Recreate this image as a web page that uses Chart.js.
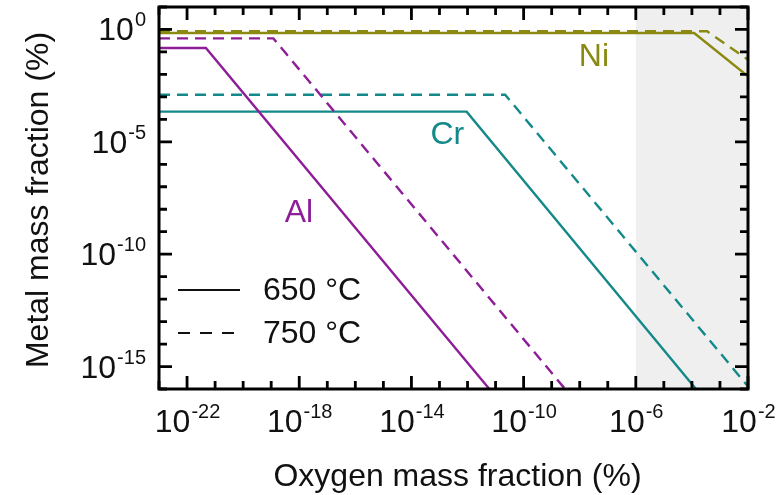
<!DOCTYPE html>
<html>
<head>
<meta charset="utf-8">
<script src="https://cdn.jsdelivr.net/npm/chart.js@4.4.1/dist/chart.umd.min.js"></script>
<style>
  html, body { margin: 0; padding: 0; background: #fff; }
  #wrap { width: 783px; height: 495px; position: relative; }
</style>
</head>
<body>
<div id="wrap"><canvas id="metal-chart"></canvas></div>
<script>
// 
// Metal vs oxygen mass fraction (both in %)
// 

// Al
const alX650 = [1e-23, 4.7e-22, 6e-12];
const alY650 = [0.15, 0.15, 1e-16];
const alX750 = [1e-23, 1.2e-19, 3e-9];
const alY750 = [0.4, 0.4, 1e-16];

// Cr
const crX650 = [1e-23, 9.3e-13, 1.4e-4];
const crY650 = [2.2e-4, 2.2e-4, 1e-16];
const crX750 = [1e-23, 2.2e-11, 1e-2];
const crY750 = [1.25e-3, 1.25e-3, 1.3e-16];

// Ni
const niX650 = [1e-23, 1.2e-4, 1e-2];
const niY650 = [0.7, 0.7, 8.3e-3];
const niX750 = [1e-23, 3.5e-4, 1e-2];
const niY750 = [0.83, 0.83, 0.045];

// grey band on the right
const shadeX = [1e-6, 1e-2];

// axes
const xRange = [1e-23, 1e-2];
const yRange = [1e-16, 10];
const xMajorExps = [-22, -18, -14, -10, -6, -2];
const yMajorExps = [0, -5, -10, -15];

// element names placed in data coords
const labelText = ["Al", "Cr", "Ni"];
const labelX = [9.8e-19, 1.9e-13, 3.2e-8];
const labelY = [7e-9, 1.9e-5, 0.056];

const legendText = ["650 °C", "750 °C"];

const colorAl = "#8e1d98";
const colorCr = "#14898a";
const colorNi = "#8a8a12";
const labelColors = [colorAl, colorCr, colorNi];
const dashPattern = [11, 7];
const fontName = "'Liberation Sans', Arial, sans-serif";

function toPoints(xs, ys) {
  return xs.map((x, i) => ({ x: x, y: ys[i] }));
}

function series(xs, ys, color, dashed) {
  return {
    data: toPoints(xs, ys),
    borderColor: color,
    borderWidth: 2.4,
    borderDash: dashed ? dashPattern : [],
    pointRadius: 0,
    tension: 0,
    fill: false
  };
}

// "10" with a raised exponent
function drawPow(ctx, exp, x, y, align) {
  ctx.font = "32px " + fontName;
  const base = "10";
  const w1 = ctx.measureText(base).width;
  ctx.font = "20px " + fontName;
  const sup = String(exp);
  const w2 = ctx.measureText(sup).width;
  let start = x;
  if (align === "center") start = x - (w1 + w2) / 2;
  if (align === "right") start = x - (w1 + w2);
  ctx.textAlign = "left";
  ctx.textBaseline = "alphabetic";
  ctx.font = "32px " + fontName;
  ctx.fillText(base, start, y);
  ctx.font = "20px " + fontName;
  ctx.fillText(sup, start + w1 + 1, y - 14);
}

const framePlugin = {
  id: "frame",
  beforeDatasetsDraw(chart) {
    const ctx = chart.ctx;
    const a = chart.chartArea;
    const xs = chart.scales.x;
    const x0 = xs.getPixelForValue(shadeX[0]);
    const x1 = xs.getPixelForValue(shadeX[1]);
    ctx.save();
    ctx.fillStyle = "#efefef";
    ctx.fillRect(x0, a.top, x1 - x0, a.bottom - a.top);
    ctx.restore();
  },
  afterDatasetsDraw(chart) {
    const ctx = chart.ctx;
    const a = chart.chartArea;
    const xs = chart.scales.x;
    const ys = chart.scales.y;
    ctx.save();

    // ticks every decade, long ones at the labelled decades
    ctx.strokeStyle = "#000";
    ctx.lineWidth = 2.8;
    ctx.beginPath();
    for (let e = -23; e <= -2; e++) {
      const px = xs.getPixelForValue(Math.pow(10, e));
      const len = xMajorExps.includes(e) ? 13 : 8;
      ctx.moveTo(px, a.bottom); ctx.lineTo(px, a.bottom - len);
      ctx.moveTo(px, a.top); ctx.lineTo(px, a.top + len);
    }
    for (let e = -16; e <= 1; e++) {
      const py = ys.getPixelForValue(Math.pow(10, e));
      const len = yMajorExps.includes(e) ? 13 : 8;
      ctx.moveTo(a.left, py); ctx.lineTo(a.left + len, py);
      ctx.moveTo(a.right, py); ctx.lineTo(a.right - len, py);
    }
    ctx.stroke();

    // frame
    ctx.lineWidth = 3;
    ctx.strokeRect(a.left, a.top, a.right - a.left, a.bottom - a.top);

    // tick labels
    ctx.fillStyle = "#111";
    xMajorExps.forEach(e => {
      drawPow(ctx, e, xs.getPixelForValue(Math.pow(10, e)), a.bottom + 43, "center");
    });
    yMajorExps.forEach(e => {
      drawPow(ctx, e, a.left - 14, ys.getPixelForValue(Math.pow(10, e)) + 11, "right");
    });

    // axis titles
    ctx.font = "32px " + fontName;
    ctx.textAlign = "center";
    ctx.textBaseline = "alphabetic";
    ctx.fillText("Oxygen mass fraction (%)", (a.left + a.right) / 2 + 4, 486);
    ctx.save();
    ctx.translate(48, (a.top + a.bottom) / 2 + 2);
    ctx.rotate(-Math.PI / 2);
    ctx.fillText("Metal mass fraction (%)", 0, 0);
    ctx.restore();

    // element labels
    ctx.textBaseline = "middle";
    labelText.forEach((t, i) => {
      ctx.fillStyle = labelColors[i];
      ctx.fillText(t, xs.getPixelForValue(labelX[i]), ys.getPixelForValue(labelY[i]));
    });

    // legend
    ctx.strokeStyle = "#111";
    ctx.fillStyle = "#111";
    ctx.lineWidth = 2.2;
    ctx.textAlign = "left";
    legendText.forEach((t, i) => {
      const ly = 290 + i * 43;
      ctx.setLineDash(i === 0 ? [] : [12, 10]);
      ctx.beginPath();
      ctx.moveTo(178, ly); ctx.lineTo(240, ly);
      ctx.stroke();
      ctx.fillText(t, 263, ly + 1);
    });
    ctx.setLineDash([]);
    ctx.restore();
  }
};

new Chart("metal-chart", {
  type: "line",
  data: {
    datasets: [
      series(alX650, alY650, colorAl, false),
      series(alX750, alY750, colorAl, true),
      series(crX650, crY650, colorCr, false),
      series(crX750, crY750, colorCr, true),
      series(niX650, niY650, colorNi, false),
      series(niX750, niY750, colorNi, true)
    ]
  },
  options: {
    responsive: true,
    maintainAspectRatio: false,
    animation: false,
    layout: { padding: { left: 159, right: 35, top: 7, bottom: 106 } },
    plugins: { legend: { display: false }, tooltip: { enabled: false } },
    scales: {
      x: { type: "logarithmic", min: xRange[0], max: xRange[1], display: false },
      y: { type: "logarithmic", min: yRange[0], max: yRange[1], display: false }
    }
  },
  plugins: [framePlugin]
});
</script>
</body>
</html>
